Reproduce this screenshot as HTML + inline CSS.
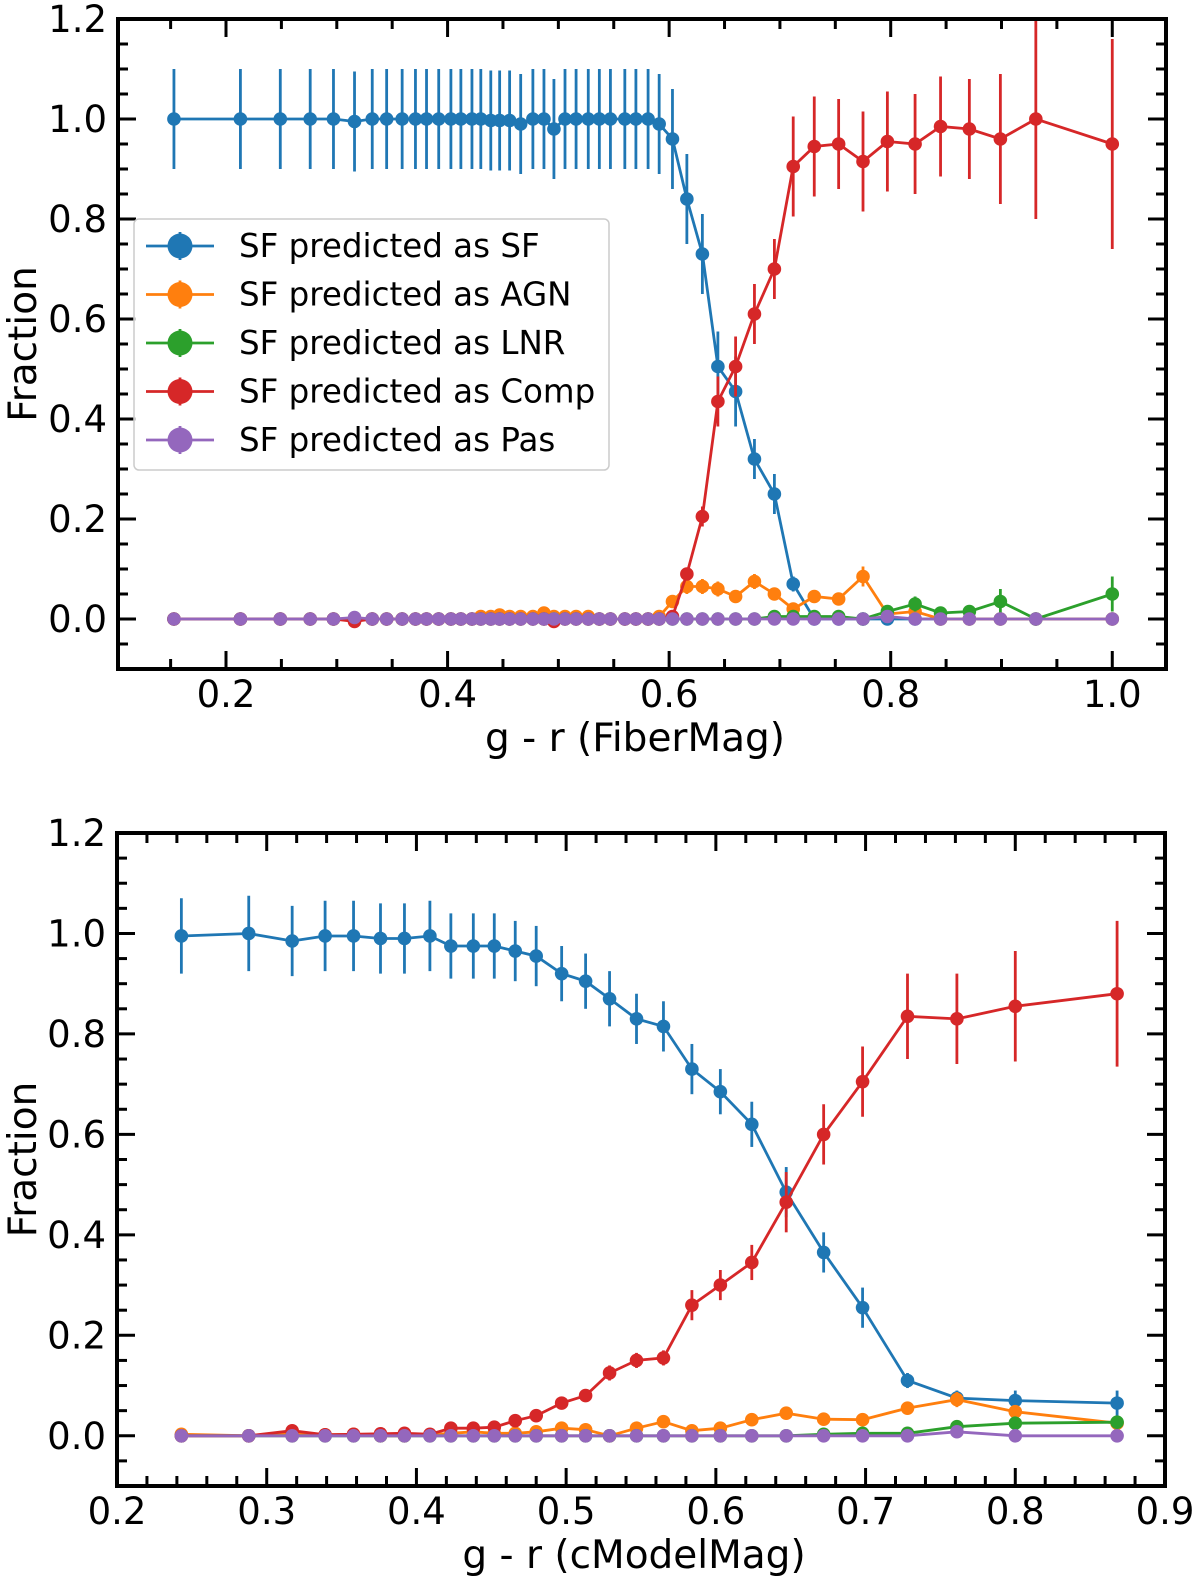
<!DOCTYPE html>
<html><head><meta charset="utf-8">
<style>
html,body{margin:0;padding:0;background:#fff;}
svg{display:block;font-family:"DejaVu Sans","Liberation Sans",sans-serif;}
</style></head>
<body>
<svg id="chart" width="1200" height="1582" viewBox="0 0 1200 1582" xmlns="http://www.w3.org/2000/svg"></svg>
<script>
// ---- Top panel data (g - r FiberMag) ----
const topX = [0.153,0.213,0.249,0.276,0.297,0.316,0.332,0.345,0.359,0.371,0.381,0.392,0.403,0.412,0.422,0.430,0.439,0.447,0.456,0.466,0.477,0.487,0.496,0.506,0.516,0.527,0.537,0.547,0.560,0.570,0.581,0.591,0.603,
  0.616,0.630,0.644,0.660,0.677,0.695,0.712,0.731,0.753,0.775,0.797,0.822,0.845,0.871,0.899,0.931,1.0];
const topSF = [1,1,1,1,1,0.995,1,1,1,1,1,1,1,1,1,1,0.997,0.997,0.997,0.99,1,1,0.98,1,1,1,1,1,1,1,1,0.99,0.96,
  0.84,0.73,0.505,0.455,0.32,0.25,0.07,0,0,0,0,0,0,0,0,0,0];
const topSFerr = [0.1,0.1,0.1,0.1,0.1,0.1,0.1,0.1,0.1,0.1,0.1,0.1,0.1,0.1,0.1,0.1,0.1,0.1,0.1,0.1,0.1,0.1,0.1,0.1,0.1,0.1,0.1,0.1,0.1,0.1,0.1,0.1,0.1,
  0.09,0.08,0.07,0.07,0.04,0.04,0.015,0,0,0,0,0,0,0,0,0,0];
const topAGN = [0,0,0,0,0,0,0,0,0,0,0,0,0,0,0,0.005,0.005,0.008,0.005,0.005,0.005,0.012,0.005,0.005,0.005,0.005,0,0,0,0,0,0.005,0.035,
  0.065,0.065,0.06,0.045,0.075,0.05,0.02,0.045,0.04,0.085,0.01,0.015,0,0,0,0,0];
const topAGNerr = [0,0,0,0,0,0,0,0,0,0,0,0,0,0,0,0,0,0,0,0,0,0,0,0,0,0,0,0,0,0,0,0,0.005,
  0.015,0.015,0.015,0.01,0.015,0.01,0.008,0.01,0.01,0.02,0.005,0.005,0,0,0,0,0];
const topLNR = [0,0,0,0,0,0,0,0,0,0,0,0,0,0,0,0,0,0,0,0,0,0,0,0,0,0,0,0,0,0,0,0,0,
  0,0,0,0,0,0.005,0.005,0.005,0.005,0,0.015,0.03,0.012,0.015,0.035,0,0.05];
const topLNRerr = [0,0,0,0,0,0,0,0,0,0,0,0,0,0,0,0,0,0,0,0,0,0,0,0,0,0,0,0,0,0,0,0,0,
  0,0,0,0,0,0,0,0,0,0,0.005,0.015,0.005,0.01,0.025,0,0.035];
const topComp = [0,0,0,0,0,-0.005,0,0,0,0,0,0,0,0,0,0,0,0,0,0,0,0,-0.005,0,0,0,0,0,0,0,0,0,0.005,
  0.09,0.205,0.435,0.505,0.61,0.70,0.905,0.945,0.95,0.915,0.955,0.95,0.985,0.98,0.96,1.0,0.95];
const topCompErr = [0,0,0,0,0,0,0,0,0,0,0,0,0,0,0,0,0,0,0,0,0,0,0,0,0,0,0,0,0,0,0,0,0,
  0.01,0.02,0.05,0.06,0.06,0.06,0.1,0.1,0.09,0.1,0.1,0.1,0.1,0.1,0.13,0.2,0.21];
const topPas = [0,0,0,0,0,0.003,0,0,0,0,0,0,0,0,0,0,0,0,0,0,0,0,0,0,0,0,0,0,0,0,0,0,0,
  0,0,0,0,0,0,0,0,0,0,0.005,0,0,0,0,0,0];

// ---- Bottom panel data (g - r cModelMag) ----
const botX = [0.243,0.288,0.317,0.339,0.358,0.376,0.392,0.409,0.423,0.438,0.452,0.466,0.480,0.497,0.513,0.529,0.547,0.565,0.584,0.603,0.624,0.647,0.672,0.698,0.728,0.761,0.800,0.868];
const botSF = [0.995,1.0,0.985,0.995,0.995,0.99,0.99,0.995,0.975,0.975,0.975,0.965,0.955,0.92,0.905,0.87,0.83,0.815,0.73,0.685,0.62,0.485,0.365,0.255,0.11,0.075,0.07,0.065];
const botSFerr = [0.075,0.075,0.07,0.07,0.07,0.07,0.07,0.07,0.065,0.065,0.065,0.06,0.06,0.055,0.055,0.055,0.05,0.05,0.05,0.045,0.045,0.05,0.04,0.04,0.015,0.015,0.02,0.025];
const botAGN = [0.003,0,0.005,0.002,0.003,0,0,0.002,0.005,0.008,0.005,0.005,0.008,0.015,0.012,0,0.015,0.028,0.01,0.015,0.032,0.045,0.033,0.032,0.055,0.072,0.048,0.025];
const botAGNerr = [0,0,0,0,0,0,0,0,0,0,0,0,0,0,0,0,0,0.005,0,0,0.005,0.008,0.005,0.005,0.01,0.015,0.01,0.005];
const botLNR = [0,0,0,0,0,0,0,0,0,0,0,0,0,0,0,0,0,0,0,0,0,0,0.003,0.005,0.005,0.018,0.025,0.027];
const botLNRerr = [0,0,0,0,0,0,0,0,0,0,0,0,0,0,0,0,0,0,0,0,0,0,0,0,0,0.005,0.008,0.01];
const botComp = [0,0,0.01,0.002,0.003,0.004,0.005,0.003,0.015,0.015,0.017,0.03,0.04,0.065,0.08,0.125,0.15,0.155,0.26,0.3,0.345,0.465,0.6,0.705,0.835,0.83,0.855,0.88];
const botCompErr = [0,0,0.003,0,0,0,0,0,0.005,0.005,0.005,0.007,0.008,0.01,0.01,0.015,0.015,0.015,0.03,0.03,0.035,0.06,0.06,0.07,0.085,0.09,0.11,0.145];
const botPas = [0,0,0,0,0,0,0,0,0,0,0,0,0,0,0,0,0,0,0,0,0,0,0,0,0,0.008,0,0];

const topYTicks = ["0.0","0.2","0.4","0.6","0.8","1.0","1.2"];
const topXTicks = ["0.2","0.4","0.6","0.8","1.0"];
const botXTicks = ["0.2","0.3","0.4","0.5","0.6","0.7","0.8","0.9"];

const COLORS = {SF:"#1f77b4",AGN:"#ff7f0e",LNR:"#2ca02c",Comp:"#d62728",Pas:"#9467bd"};
const NS = "http://www.w3.org/2000/svg";
const svg = document.getElementById('chart');
function mk(tag, attrs, parent){
  const e = document.createElementNS(NS, tag);
  for (const k in attrs) e.setAttribute(k, attrs[k]);
  (parent||svg).appendChild(e);
  return e;
}

function panel(cfg){
  const g = mk('g', {});
  
  
  const L=cfg.left, T=cfg.top, R=cfg.right, B=cfg.bottom;
  const xs = v => L + (v - cfg.xmin) / (cfg.xmax - cfg.xmin) * (R - L);
  const ys = v => B - (v - cfg.ymin) / (cfg.ymax - cfg.ymin) * (B - T);

  cfg.series.forEach(s => {
    const sg = mk('g', {}, g);
    
    
    s.y.forEach((v,i) => {
      const e = s.err ? s.err[i] : 0;
      if (e > 0) {
        const eb = mk('line', {x1:xs(cfg.x[i]), x2:xs(cfg.x[i]), y1:ys(v-e), y2:ys(v+e), stroke:s.color, 'stroke-width':2.8}, sg);
        
        
      }
    });
    const pts = s.y.map((v,i) => xs(cfg.x[i]).toFixed(1)+','+ys(v).toFixed(1)).join(' ');
    const pl = mk('polyline', {points:pts, fill:'none', stroke:s.color, 'stroke-width':2.8}, sg);
    
    
    s.y.forEach((v,i) => {
      const c = mk('circle', {cx:xs(cfg.x[i]), cy:ys(v), r:6.8, fill:s.color}, sg);
      
      
    });
  });

  const fr = mk('rect', {x:L, y:T, width:R-L, height:B-T, fill:'none', stroke:'#000', 'stroke-width':4}, g);
  
  

  const yt = mk('g', {}, g);
  
  
  for (let k = Math.round(cfg.ymin/0.05); k <= Math.round(cfg.ymax/0.05); k++) {
    const v = k*0.05, y = ys(v);
    const major = k % 4 === 0;
    const len = major ? 18 : 10;
    mk('line', {x1:L, x2:L+len, y1:y, y2:y, stroke:'#000', 'stroke-width':3}, yt);
    mk('line', {x1:R, x2:R-len, y1:y, y2:y, stroke:'#000', 'stroke-width':3}, yt);
  }
  cfg.yLabels.forEach(t => {
    const tx = mk('text', {x:L-11, y:ys(parseFloat(t))+13, 'text-anchor':'end', 'font-size':37}, yt);
    tx.textContent = t;
    
    
  });
  const xt = mk('g', {}, g);
  
  
  const nMin = Math.ceil(cfg.xmin/cfg.xminor - 1e-6), nMax = Math.floor(cfg.xmax/cfg.xminor + 1e-6);
  for (let k = nMin; k <= nMax; k++) {
    const v = k*cfg.xminor, x = xs(v);
    const major = Math.abs(v/cfg.xmajor - Math.round(v/cfg.xmajor)) < 1e-6;
    const len = major ? 18 : 10;
    mk('line', {x1:x, x2:x, y1:B, y2:B-len, stroke:'#000', 'stroke-width':3}, xt);
    mk('line', {x1:x, x2:x, y1:T, y2:T+len, stroke:'#000', 'stroke-width':3}, xt);
  }
  cfg.xLabels.forEach(t => {
    const tx = mk('text', {x:xs(parseFloat(t)), y:B+38, 'text-anchor':'middle', 'font-size':37}, xt);
    tx.textContent = t;
    
    
  });
  const xl = mk('text', {x:(L+R)/2-7, y:B+82, 'text-anchor':'middle', 'font-size':39}, g);
  xl.textContent = cfg.xTitle;
  
  
  const yl = mk('text', {x:0, y:0, 'text-anchor':'middle', 'font-size':39, transform:`translate(36,${(T+B)/2}) rotate(-90)`}, g);
  yl.textContent = 'Fraction';
  
  
}

function seriesList(sf, sfe, agn, agne, lnr, lnre, comp, compe, pas){
  return [
    {name:'series-sf', color:COLORS.SF, y:sf, err:sfe},
    {name:'series-agn', color:COLORS.AGN, y:agn, err:agne},
    {name:'series-lnr', color:COLORS.LNR, y:lnr, err:lnre},
    {name:'series-comp', color:COLORS.Comp, y:comp, err:compe},
    {name:'series-pas', color:COLORS.Pas, y:pas, err:null},
  ];
}

panel({name:'top-panel', left:118, top:19, right:1166, bottom:669,
  xmin:0.1025, xmax:1.0485, ymin:-0.1, ymax:1.2, xmajor:0.2, xminor:0.05,
  x:topX, yLabels:topYTicks, xLabels:topXTicks, xTitle:'g - r (FiberMag)',
  series:seriesList(topSF, topSFerr, topAGN, topAGNerr, topLNR, topLNRerr, topComp, topCompErr, topPas)});

panel({name:'bottom-panel', left:117, top:833, right:1165, bottom:1486,
  xmin:0.2, xmax:0.9, ymin:-0.1, ymax:1.2, xmajor:0.1, xminor:0.02,
  x:botX, yLabels:topYTicks, xLabels:botXTicks, xTitle:'g - r (cModelMag)',
  series:seriesList(botSF, botSFerr, botAGN, botAGNerr, botLNR, botLNRerr, botComp, botCompErr, botPas)});

const lg = mk('g', {});


mk('rect', {x:134, y:219, width:475, height:251, rx:5, fill:'#fff', 'fill-opacity':0.8, stroke:'#ccc', 'stroke-width':1.5}, lg);
const legLabels = ['SF predicted as SF','SF predicted as AGN','SF predicted as LNR','SF predicted as Comp','SF predicted as Pas'];
const legColors = [COLORS.SF, COLORS.AGN, COLORS.LNR, COLORS.Comp, COLORS.Pas];
legLabels.forEach((t,i) => {
  const y = 246 + i*48.5;
  const e = mk('g', {}, lg);
  
  
  mk('line', {x1:146, x2:214, y1:y, y2:y, stroke:legColors[i], 'stroke-width':2.8}, e);
  mk('line', {x1:180, x2:180, y1:y-14, y2:y+14, stroke:legColors[i], 'stroke-width':2.8}, e);
  mk('circle', {cx:180, cy:y, r:12.5, fill:legColors[i]}, e);
  const tx = mk('text', {x:239, y:y+11, 'font-size':32.5}, e);
  tx.textContent = t;
});
</script>
</body></html>
